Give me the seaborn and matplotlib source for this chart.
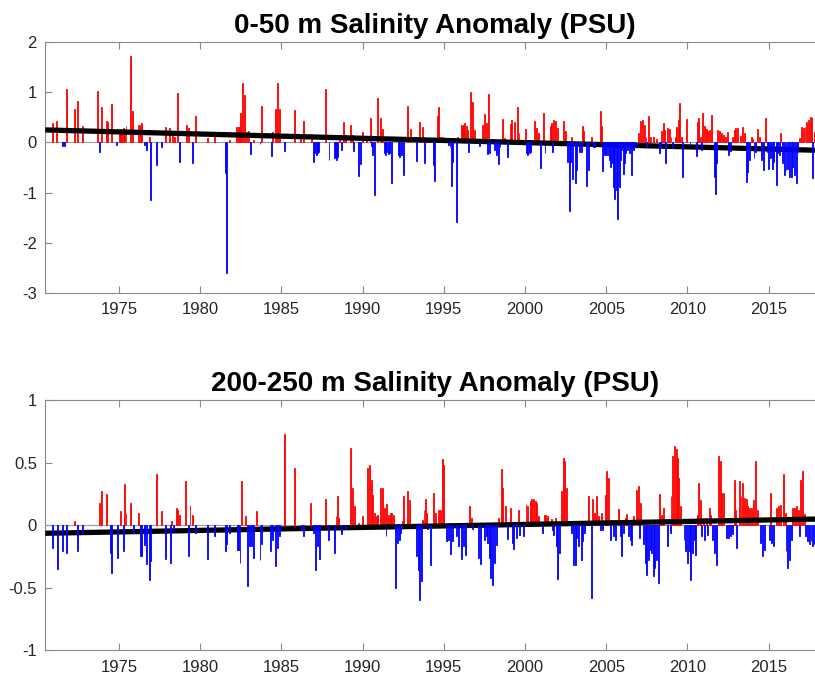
import numpy as np
import pandas as pd
import matplotlib
matplotlib.use("Agg")
import matplotlib.pyplot as plt
import seaborn as sns

# ---------------- data ----------------
# 0-50 m anomalies (decimal year, PSU)
top_pos_time = [1970.92, 1971.15, 1971.78, 1972.25, 1972.43, 1972.76, 1973.69, 1973.95, 1974.20, 1974.30,
                1974.53, 1975.02, 1975.10, 1975.18, 1975.27, 1975.35, 1975.43, 1975.68, 1975.84, 1976.20,
                1976.30, 1976.40, 1976.85, 1977.87, 1978.10, 1978.30, 1978.43, 1978.60, 1979.13, 1979.30,
                1979.68, 1980.44, 1980.85, 1981.83, 1982.25, 1982.33, 1982.41, 1982.50, 1982.62, 1982.70,
                1982.86, 1982.96, 1983.31, 1983.78, 1984.44, 1984.61, 1984.77, 1984.87, 1985.78, 1986.19,
                1986.35, 1986.86, 1987.71, 1988.56, 1988.85, 1988.96, 1989.27, 1989.39, 1989.98, 1990.25,
                1990.46, 1990.93, 1991.13, 1991.23, 1992.77, 1992.92, 1993.53, 1993.66, 1993.95, 1994.05,
                1994.15, 1994.25, 1994.60, 1994.68, 1994.77, 1994.93, 1995.85, 1996.06, 1996.14, 1996.22,
                1996.30, 1996.40, 1996.46, 1996.65, 1996.76, 1996.86, 1997.39, 1997.52, 1997.60, 1997.76,
                1998.60, 1998.73, 1999.08, 1999.18, 1999.34, 1999.53, 1999.63, 2000.02, 2000.57, 2000.72,
                2000.82, 2001.13, 2001.54, 2001.62, 2001.78, 2001.88, 2002.00, 2002.38, 2002.50, 2002.87,
                2003.55, 2003.63, 2004.10, 2004.62, 2004.70, 2006.98, 2007.12, 2007.23, 2007.33, 2007.45,
                2007.59, 2007.70, 2007.90, 2008.07, 2008.42, 2008.52, 2008.60, 2008.76, 2008.89, 2008.99,
                2009.24, 2009.34, 2009.44, 2009.54, 2009.65, 2009.96, 2010.61, 2010.71, 2010.82, 2010.94,
                2011.04, 2011.15, 2011.25, 2011.35, 2011.50, 2011.88, 2011.97, 2012.11, 2012.21, 2012.36,
                2012.46, 2012.79, 2012.87, 2012.97, 2013.07, 2013.24, 2013.38, 2013.49, 2013.96, 2014.02,
                2014.33, 2014.43, 2014.78, 2015.76, 2016.89, 2017.04, 2017.14, 2017.24, 2017.34, 2017.45,
                2017.55, 2017.63, 2017.80]
top_pos_anom = [0.38, 0.43, 1.06, 0.66, 0.83, 0.33, 1.03, 0.70, 0.43, 0.41,
                0.76, 0.22, 0.26, 0.24, 0.28, 0.22, 0.33, 1.73, 0.63, 0.35,
                0.35, 0.38, 0.10, 0.30, 0.28, 0.15, 0.11, 0.99, 0.35, 0.28,
                0.53, 0.08, 0.18, 0.05, 0.30, 0.30, 0.30, 0.59, 1.18, 0.95,
                0.21, 0.23, 0.05, 0.73, 0.20, 0.67, 1.18, 0.66, 0.65, 0.06,
                0.43, 0.17, 1.07, 0.10, 0.41, 0.15, 0.35, 0.15, 0.21, 0.11,
                0.49, 0.88, 0.49, 0.26, 0.73, 0.26, 0.41, 0.30, 0.08, 0.08,
                0.08, 0.08, 0.53, 0.71, 0.11, 0.10, 0.11, 0.35, 0.30, 0.35,
                0.38, 0.33, 0.25, 1.00, 0.81, 0.25, 0.35, 0.57, 0.39, 0.96,
                0.47, 0.08, 0.37, 0.45, 0.41, 0.71, 0.18, 0.26, 0.43, 0.28,
                0.18, 0.58, 0.33, 0.39, 0.45, 0.43, 0.28, 0.43, 0.23, 0.11,
                0.33, 0.23, 0.11, 0.63, 0.33, 0.18, 0.43, 0.44, 0.35, 0.11,
                0.53, 0.11, 0.10, 0.07, 0.23, 0.39, 0.25, 0.28, 0.26, 0.11,
                0.11, 0.31, 0.45, 0.78, 0.11, 0.46, 0.41, 0.48, 0.11, 0.58,
                0.33, 0.26, 0.23, 0.25, 0.55, 0.25, 0.23, 0.18, 0.15, 0.11,
                0.21, 0.11, 0.25, 0.28, 0.28, 0.13, 0.30, 0.18, 0.11, 0.07,
                0.26, 0.11, 0.48, 0.18, 0.09, 0.30, 0.28, 0.31, 0.41, 0.45,
                0.51, 0.48, 0.21]
top_neg_time = [1971.50, 1971.58, 1971.66, 1973.77, 1974.86, 1976.54, 1976.70, 1976.95, 1977.28, 1977.63,
                1978.72, 1979.54, 1981.53, 1981.63, 1983.11, 1983.68, 1984.36, 1985.18, 1986.97, 1987.05,
                1987.13, 1987.21, 1987.30, 1987.93, 1988.25, 1988.33, 1988.41, 1988.48, 1988.71, 1989.43,
                1989.76, 1989.84, 1990.54, 1990.62, 1990.76, 1991.32, 1991.41, 1991.49, 1991.58, 1991.66,
                1991.79, 1992.20, 1992.30, 1992.40, 1992.51, 1993.29, 1993.80, 1994.36, 1994.44, 1995.28,
                1995.38, 1995.46, 1995.55, 1995.79, 1996.53, 1997.19, 1997.68, 1997.84, 1998.13, 1998.25,
                1998.36, 1998.46, 1998.95, 2000.10, 2000.18, 2000.27, 2000.36, 2000.97, 2001.23, 2001.70,
                2002.63, 2002.71, 2002.79, 2002.93, 2003.10, 2003.18, 2003.38, 2003.46, 2003.80, 2003.88,
                2004.20, 2004.30, 2004.78, 2004.88, 2004.98, 2005.08, 2005.18, 2005.28, 2005.38, 2005.46,
                2005.54, 2005.62, 2005.71, 2005.79, 2005.88, 2005.96, 2006.04, 2006.12, 2006.20, 2006.29,
                2006.38, 2006.46, 2006.58, 2006.70, 2006.79, 2007.49, 2008.27, 2008.37, 2008.68, 2009.09,
                2009.71, 2010.16, 2010.53, 2010.84, 2011.64, 2011.72, 2011.80, 2012.52, 2012.67, 2013.61,
                2013.69, 2013.81, 2014.10, 2014.20, 2014.57, 2014.68, 2014.92, 2015.02, 2015.13, 2015.23,
                2015.33, 2015.46, 2015.56, 2015.66, 2015.87, 2015.97, 2016.07, 2016.17, 2016.28, 2016.38,
                2016.48, 2016.58, 2016.69, 2016.79, 2017.71]
top_neg_anom = [-0.07, -0.05, -0.07, -0.19, -0.05, -0.05, -0.15, -1.15, -0.45, -0.09,
                -0.40, -0.41, -0.61, -2.61, -0.23, -0.03, -0.27, -0.17, -0.39, -0.22,
                -0.25, -0.22, -0.19, -0.35, -0.32, -0.30, -0.35, -0.30, -0.15, -0.17,
                -0.67, -0.43, -0.07, -0.25, -1.04, -0.22, -0.25, -0.20, -0.23, -0.22,
                -0.80, -0.25, -0.29, -0.25, -0.65, -0.37, -0.41, -0.45, -0.77, -0.05,
                -0.10, -0.87, -0.39, -1.59, -0.20, -0.07, -0.23, -0.22, -0.15, -0.25,
                -0.44, -0.09, -0.29, -0.21, -0.25, -0.21, -0.19, -0.51, -0.22, -0.19,
                -0.39, -1.37, -0.39, -0.72, -0.81, -0.55, -0.19, -0.19, -0.87, -0.55,
                -0.09, -0.09, -0.57, -0.25, -0.25, -0.25, -0.35, -0.49, -0.42, -0.89,
                -1.12, -0.95, -1.53, -0.89, -0.35, -0.15, -0.62, -0.42, -0.22, -0.15,
                -0.09, -0.22, -0.65, -0.15, -0.09, -0.09, -0.22, -0.09, -0.41, -0.12,
                -0.69, -0.10, -0.27, -0.15, -0.69, -1.02, -0.42, -0.25, -0.17, -0.79,
                -0.59, -0.35, -0.32, -0.19, -0.35, -0.55, -0.19, -0.52, -0.32, -0.52,
                -0.39, -0.84, -0.22, -0.25, -0.42, -0.65, -0.55, -0.52, -0.69, -0.69,
                -0.49, -0.65, -0.81, -0.19, -0.70]

# 200-250 m anomalies (decimal year, PSU)
bot_pos_time = [1972.27, 1973.77, 1973.93, 1974.20, 1975.10, 1975.33, 1975.43, 1975.70, 1976.17, 1977.28,
                1977.60, 1978.26, 1978.51, 1978.59, 1978.70, 1979.10, 1979.37, 1979.54, 1982.55, 1982.80,
                1983.44, 1985.18, 1985.78, 1986.82, 1987.69, 1988.36, 1988.44, 1988.53, 1989.27, 1989.37,
                1989.47, 1989.76, 1989.98, 1990.29, 1990.41, 1990.52, 1990.62, 1990.72, 1990.83, 1990.93,
                1991.13, 1991.23, 1991.34, 1991.48, 1991.58, 1991.69, 1991.79, 1991.89, 1992.44, 1992.51,
                1992.77, 1992.88, 1993.70, 1993.78, 1993.86, 1993.94, 1994.36, 1994.46, 1994.68, 1994.77,
                1994.93, 1995.01, 1996.61, 1996.70, 1996.86, 1998.36, 1998.54, 1998.62, 1998.79, 1999.12,
                1999.58, 2000.06, 2000.14, 2000.31, 2000.41, 2000.51, 2000.62, 2000.72, 2000.82, 2001.17,
                2001.29, 2001.39, 2001.54, 2001.62, 2001.85, 2002.26, 2002.36, 2002.46, 2002.56, 2003.90,
                2004.17, 2004.25, 2004.41, 2004.52, 2004.72, 2004.93, 2005.03, 2005.13, 2005.34, 2005.75,
                2006.16, 2006.26, 2006.67, 2006.88, 2006.98, 2007.12, 2008.31, 2008.41, 2008.52, 2008.99,
                2009.09, 2009.20, 2009.30, 2009.40, 2009.48, 2009.59, 2010.61, 2010.69, 2010.78, 2010.98,
                2011.15, 2011.35, 2011.43, 2011.91, 2012.01, 2012.11, 2012.21, 2012.90, 2012.97, 2013.20,
                2013.30, 2013.40, 2013.51, 2013.61, 2013.71, 2013.81, 2013.96, 2014.06, 2014.20, 2014.31,
                2015.13, 2015.50, 2015.62, 2015.74, 2015.91, 2016.01, 2016.48, 2016.62, 2016.73, 2016.83,
                2016.97, 2017.10, 2017.20, 2017.92]
bot_pos_anom = [0.03, 0.18, 0.27, 0.25, 0.11, 0.33, 0.10, 0.18, 0.10, 0.41,
                0.11, 0.03, 0.14, 0.12, 0.08, 0.35, 0.16, 0.08, 0.35, 0.07,
                0.11, 0.73, 0.46, 0.18, 0.21, 0.07, 0.23, 0.06, 0.62, 0.30,
                0.15, 0.02, 0.07, 0.46, 0.48, 0.36, 0.24, 0.10, 0.07, 0.08,
                0.30, 0.30, 0.14, 0.17, 0.08, 0.10, 0.10, 0.08, 0.03, 0.23,
                0.27, 0.20, 0.04, 0.12, 0.21, 0.10, 0.26, 0.10, 0.12, 0.12,
                0.53, 0.48, 0.15, 0.06, 0.02, 0.06, 0.45, 0.30, 0.15, 0.14,
                0.12, 0.17, 0.15, 0.19, 0.21, 0.21, 0.19, 0.18, 0.07, 0.08,
                0.08, 0.07, 0.03, 0.05, 0.06, 0.27, 0.54, 0.51, 0.30, 0.23,
                0.21, 0.10, 0.23, 0.07, 0.10, 0.24, 0.43, 0.38, 0.04, 0.13,
                0.06, 0.09, 0.07, 0.28, 0.31, 0.18, 0.25, 0.08, 0.14, 0.23,
                0.55, 0.63, 0.61, 0.54, 0.38, 0.15, 0.08, 0.34, 0.20, 0.06,
                0.06, 0.14, 0.08, 0.55, 0.51, 0.26, 0.26, 0.36, 0.12, 0.35,
                0.23, 0.34, 0.22, 0.21, 0.15, 0.14, 0.14, 0.20, 0.51, 0.12,
                0.26, 0.14, 0.15, 0.16, 0.41, 0.10, 0.14, 0.14, 0.15, 0.12,
                0.36, 0.43, 0.09, 0.37]
bot_neg_time = [1970.92, 1971.20, 1971.51, 1971.78, 1972.45, 1972.76, 1974.45, 1974.53, 1974.90, 1975.25,
                1975.88, 1976.30, 1976.40, 1976.54, 1976.70, 1976.85, 1976.95, 1977.87, 1978.14, 1978.37,
                1979.27, 1979.68, 1980.46, 1980.85, 1981.53, 1981.63, 1981.83, 1982.29, 1982.37, 1982.45,
                1982.90, 1983.02, 1983.17, 1983.27, 1983.68, 1983.78, 1984.34, 1984.46, 1984.63, 1984.75,
                1984.87, 1986.21, 1986.35, 1986.97, 1987.09, 1987.21, 1987.34, 1987.91, 1988.28, 1988.71,
                1988.92, 1991.44, 1992.04, 1992.16, 1992.26, 1992.36, 1993.33, 1993.43, 1993.53, 1993.62,
                1994.00, 1994.19, 1995.18, 1995.30, 1995.42, 1995.52, 1995.79, 1995.89, 1996.10, 1996.20,
                1996.35, 1996.78, 1997.13, 1997.23, 1997.48, 1997.60, 1997.70, 1997.80, 1997.89, 1998.01,
                1998.13, 1998.25, 1998.93, 1999.22, 1999.32, 1999.47, 1999.69, 1999.90, 2001.05, 2001.70,
                2001.78, 2001.91, 2002.01, 2002.11, 2002.87, 2002.98, 2003.08, 2003.18, 2003.32, 2003.45,
                2003.55, 2003.65, 2004.11, 2004.64, 2004.80, 2005.27, 2005.44, 2005.60, 2005.85, 2005.95,
                2006.05, 2006.36, 2006.47, 2006.57, 2007.04, 2007.29, 2007.39, 2007.49, 2007.60, 2007.70,
                2007.80, 2007.90, 2008.00, 2008.11, 2008.21, 2008.77, 2008.93, 2009.79, 2009.89, 2010.00,
                2010.10, 2010.20, 2010.30, 2010.41, 2010.51, 2010.88, 2011.08, 2011.23, 2011.56, 2011.68,
                2011.78, 2012.38, 2012.52, 2012.67, 2012.80, 2013.03, 2014.51, 2014.63, 2014.72, 2015.04,
                2015.19, 2015.33, 2016.07, 2016.17, 2016.28, 2016.38, 2016.90, 2017.30, 2017.41, 2017.51,
                2017.61, 2017.71, 2017.82]
bot_neg_anom = [-0.18, -0.35, -0.21, -0.22, -0.21, -0.06, -0.22, -0.38, -0.26, -0.21,
                -0.06, -0.25, -0.25, -0.16, -0.31, -0.44, -0.29, -0.27, -0.30, -0.05,
                -0.25, -0.06, -0.27, -0.09, -0.21, -0.15, -0.06, -0.20, -0.20, -0.30,
                -0.49, -0.17, -0.17, -0.26, -0.28, -0.15, -0.21, -0.12, -0.33, -0.18,
                -0.09, -0.03, -0.09, -0.06, -0.36, -0.17, -0.27, -0.12, -0.22, -0.07,
                -0.03, -0.09, -0.50, -0.14, -0.12, -0.06, -0.25, -0.36, -0.60, -0.45,
                -0.03, -0.32, -0.13, -0.12, -0.23, -0.13, -0.09, -0.17, -0.27, -0.17,
                -0.24, -0.03, -0.26, -0.31, -0.12, -0.09, -0.14, -0.26, -0.42, -0.48,
                -0.30, -0.16, -0.11, -0.14, -0.19, -0.10, -0.08, -0.09, -0.06, -0.04,
                -0.08, -0.17, -0.43, -0.22, -0.06, -0.32, -0.32, -0.10, -0.17, -0.28,
                -0.13, -0.06, -0.58, -0.04, -0.04, -0.12, -0.09, -0.12, -0.09, -0.25,
                -0.06, -0.09, -0.12, -0.16, -0.10, -0.15, -0.30, -0.40, -0.28, -0.20,
                -0.22, -0.41, -0.34, -0.28, -0.46, -0.17, -0.06, -0.12, -0.21, -0.30,
                -0.21, -0.44, -0.22, -0.12, -0.24, -0.09, -0.12, -0.08, -0.12, -0.22,
                -0.32, -0.10, -0.10, -0.09, -0.07, -0.18, -0.14, -0.25, -0.20, -0.12,
                -0.14, -0.17, -0.21, -0.34, -0.28, -0.12, -0.09, -0.09, -0.13, -0.15,
                -0.13, -0.17, -0.15]

# linear trends (end points)
trend_years = [1970.46, 2018.46]
top_trend = [0.25, -0.16]
bot_trend = [-0.065, 0.05]

titles = ["0-50 m Salinity Anomaly (PSU)", "200-250 m Salinity Anomaly (PSU)"]
x_ticks = [1975, 1980, 1985, 1990, 1995, 2000, 2005, 2010, 2015]
top_yticks = [-3, -2, -1, 0, 1, 2]
bot_yticks = [-1, -0.5, 0, 0.5, 1]

# ---------------- style ----------------
sns.set_style("white")
plt.rcParams["font.family"] = ["Liberation Sans", "DejaVu Sans"]
plt.rcParams["axes.unicode_minus"] = False

RED = "#FF0000"
BLUE = "#0000FF"
SPINE = "#8a8a8a"
TXT = "#262626"

W, H = 815, 679
fig = plt.figure(figsize=(W / 100, H / 100), dpi=100)

left = 45.3 / W
width = 779.5 / W
ax_top = fig.add_axes([left, (H - 292.7) / H, width, (292.7 - 42.3) / H])
ax_bot = fig.add_axes([left, (H - 650.0) / H, width, (650.0 - 400.3) / H])

panels = [
    (ax_top, top_pos_time, top_pos_anom, top_neg_time, top_neg_anom, top_trend, (-3, 2), top_yticks),
    (ax_bot, bot_pos_time, bot_pos_anom, bot_neg_time, bot_neg_anom, bot_trend, (-1, 1), bot_yticks),
]

for i, (ax, pt, pv, nt, nv, trend, ylim, yticks) in enumerate(panels):
    ax.axhline(0, color="#9a9a9a", lw=0.8, zorder=1)
    ax.bar(pt, pv, width=0.06, color=RED, edgecolor=RED, linewidth=0.6, zorder=2)
    trend_df = pd.DataFrame({"year": trend_years, "trend": trend})
    sns.lineplot(data=trend_df, x="year", y="trend", color="black", linewidth=3.8,
                 ax=ax, zorder=3, solid_capstyle="butt")
    ax.bar(nt, nv, width=0.06, color=BLUE, edgecolor=BLUE, linewidth=0.6, zorder=4)

    ax.set_xlim(trend_years[0], trend_years[1])
    ax.set_ylim(*ylim)
    ax.set_xticks(x_ticks)
    ax.set_xticklabels([str(t) for t in x_ticks])
    ax.set_yticks(yticks)
    ax.set_yticklabels(["%g" % v for v in yticks])
    ax.set_xlabel("")
    ax.set_ylabel("")
    ax.tick_params(axis="x", direction="in", length=5, width=0.8, color=SPINE,
                   top=True, bottom=True, labelsize=12, labelcolor=TXT, pad=7)
    ax.tick_params(axis="y", direction="in", length=5, width=0.8, color=SPINE,
                   left=True, right=False, labelsize=12, labelcolor=TXT, pad=6)
    for side in ["left", "bottom", "top", "right"]:
        ax.spines[side].set_visible(True)
        ax.spines[side].set_color(SPINE)
        ax.spines[side].set_linewidth(0.8)
    ax.set_title(titles[i], fontsize=20, fontweight="bold", color="black", pad=6.5)

fig.savefig("out.png", dpi=100)
